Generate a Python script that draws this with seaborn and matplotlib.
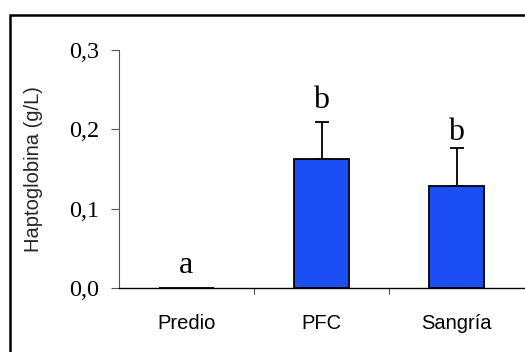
import matplotlib
matplotlib.use("Agg")
import matplotlib.pyplot as plt
import seaborn as sns
import pandas as pd
from matplotlib.patches import Rectangle

# Haptoglobin means, standard errors and significance letters per sampling point
categories = ["Predio", "PFC", "Sangría"]
means = [0.0005, 0.163, 0.128]
errors = [0.0, 0.046, 0.048]
letters = ["a", "b", "b"]

sns.set_theme(style="white")
plt.rcParams["font.family"] = ["Liberation Sans", "DejaVu Sans"]

df = pd.DataFrame({"grupo": categories, "hp": means})

fig = plt.figure(figsize=(5.25, 3.52), dpi=100)
ax = fig.add_axes([119 / 525, (352 - 288) / 352, (524 - 119) / 525, (288 - 50) / 352])

sns.barplot(data=df, x="grupo", y="hp", order=categories, color="#1c4ef5",
            saturation=1, width=0.41, edgecolor="black", linewidth=1.3,
            errorbar=None, ax=ax)

xs = list(range(len(categories)))
has_err = [e > 0 for e in errors]
ax.errorbar([x for x, h in zip(xs, has_err) if h],
            [m for m, h in zip(means, has_err) if h],
            yerr=[[0] * sum(has_err), [e for e, h in zip(errors, has_err) if h]],
            fmt="none", ecolor="black", elinewidth=1.3, capsize=5, capthick=1.3)

# significance letters sit just above each bar / error cap
letter_gap = [0.018, 0.018, 0.011]
for x, m, e, g, lab in zip(xs, means, errors, letter_gap, letters):
    ax.text(x, m + e + g, lab, ha="center", va="baseline",
            family="Liberation Serif", fontsize=23, color="black")

ax.set_xlim(-0.5, 2.5)
ax.set_ylim(0, 0.3)
ax.set_yticks([0, 0.1, 0.2, 0.3])
ax.set_yticklabels(["0,0", "0,1", "0,2", "0,3"], family="Liberation Serif", fontsize=17.5)
ax.set_xticks(xs)
ax.set_xticklabels(categories, fontsize=14.5)
ax.tick_params(axis="x", length=0, pad=19, colors="black")
ax.tick_params(axis="y", left=True, length=6, width=0.8, direction="out", pad=8,
               colors="#555555", labelcolor="black")
ax.set_xlabel("")
ax.set_ylabel("Haptoglobina (g/L)", fontsize=14.5, labelpad=19)

# category separators along the x axis
for b in [0.5, 1.5]:
    ax.plot([b, b], [0, -0.0075], color="#555555", lw=0.8, clip_on=False)

for s in ["top", "right"]:
    ax.spines[s].set_visible(False)
ax.spines["left"].set_color("#555555")
ax.spines["left"].set_linewidth(0.8)
ax.spines["bottom"].set_color("black")
ax.spines["bottom"].set_linewidth(1.0)

# outer chart frame
fig.patches.append(Rectangle((9.5 / 525, -0.1), 1.2, (352 - 14.5) / 352 + 0.1,
                             transform=fig.transFigure, fill=False,
                             edgecolor="black", linewidth=1.8))

fig.savefig("out.png", dpi=100)
